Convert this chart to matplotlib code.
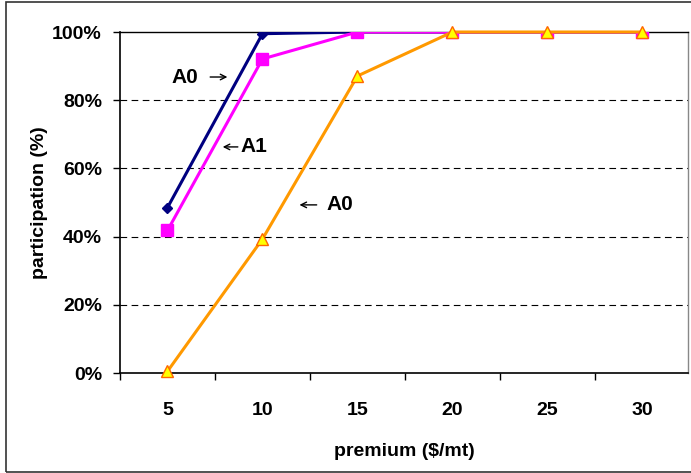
import matplotlib.pyplot as plt
from matplotlib.patches import Rectangle
from matplotlib.ticker import FixedLocator

plt.rcParams['font.family'] = ['Liberation Sans', 'DejaVu Sans']
plt.rcParams['font.weight'] = 'bold'

premium = [5, 10, 15, 20, 25, 30]
a0 = [48.5, 99.5, 100, 100, 100, 100]
a1 = [41.8, 92.1, 100, 100, 100, 100]
a0_alt = [0.5, 39.3, 87.1, 100, 100, 100]
y_ticks = [0, 20, 40, 60, 80, 100]

fig = plt.figure(figsize=(6.91, 4.73), dpi=100)
ax = fig.add_axes([120 / 691, 100 / 473, 568 / 691, 341 / 473])

# outer chart border
fig.patches.append(Rectangle((6 / 691, 1.5 / 473), 1.2, 469 / 473, transform=fig.transFigure,
                             fill=False, edgecolor='#333333', lw=1.2, zorder=0))

# gridlines
for v in y_ticks[1:-1]:
    ax.axhline(v, color='black', lw=0.8, ls=(0, (6, 4)), zorder=0)

ax.plot(premium, a0, color='#000080', lw=2.2, marker='D', ms=5, zorder=3)
ax.plot(premium, a1, color='#FF00FF', lw=2.2, marker='s', ms=8, zorder=4)
ax.plot(premium, a0_alt, color='#FF9900', lw=2.2, marker='^', ms=8,
        markerfacecolor='#FFFF00', markeredgecolor='#FF6600', markeredgewidth=1, zorder=5,
        clip_on=False)

ax.set_xlim(2.5, 32.4)
ax.set_ylim(0, 100)

# category ticks between labels
ax.xaxis.set_major_locator(FixedLocator([2.5, 7.5, 12.5, 17.5, 22.5, 27.5, 32.5]))
ax.xaxis.set_minor_locator(FixedLocator(premium))
ax.set_xticklabels([])
ax.set_xticklabels([str(p) for p in premium], minor=True)
ax.tick_params(axis='x', which='major', direction='out', length=5, width=1)
ax.tick_params(axis='x', which='minor', length=0, pad=21, labelsize=14)

ax.set_yticks(y_ticks)
ax.set_yticklabels([f'{v}%' for v in y_ticks])
ax.tick_params(axis='y', direction='out', length=5, width=1, labelsize=14, pad=8)

ax.spines['left'].set_linewidth(1.2)
ax.spines['bottom'].set_linewidth(1.2)
ax.spines['top'].set_linewidth(1)
ax.spines['right'].set_color('#888888')
ax.spines['right'].set_linewidth(1)

ax.set_xlabel('premium ($/mt)', fontsize=14, fontweight='bold', labelpad=17)
ax.set_ylabel('participation (%)', fontsize=14, fontweight='bold', labelpad=3)

# series labels with arrows
arrow = dict(arrowstyle='->', color='black', lw=1)
ax.text(5.92, 86.8, 'A0', fontsize=15, fontweight='bold', ha='center', va='center')
ax.annotate('', xy=(8.3, 86.8), xytext=(7.1, 86.8), arrowprops=arrow)
ax.annotate('', xy=(7.76, 66.3), xytext=(8.85, 66.3), arrowprops=arrow)
ax.text(9.55, 66.3, 'A1', fontsize=15, fontweight='bold', ha='center', va='center')
ax.annotate('', xy=(11.8, 49.3), xytext=(13.0, 49.3), arrowprops=arrow)
ax.text(14.05, 49.3, 'A0', fontsize=15, fontweight='bold', ha='center', va='center')

plt.savefig('out.png', dpi=100)
